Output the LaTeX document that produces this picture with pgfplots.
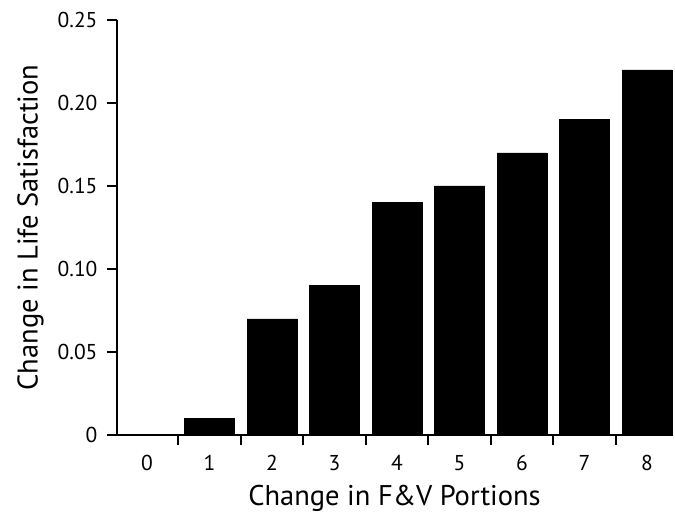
\documentclass[border=0pt]{standalone}
\usepackage{fontspec}
\setmainfont{PT Sans}
\usepackage{pgfplots}
\pgfplotsset{compat=1.18}

\begin{document}
\begin{tikzpicture}
\begin{axis}[
    scale only axis,
    width=555pt, height=415pt,
    xmin=-0.48, xmax=8.4,
    ymin=0, ymax=0.25,
    axis x line=bottom, axis y line=left,
    axis line style={line width=2pt, -},
    tick align=outside,
    xtick={0.5,1.5,2.5,3.5,4.5,5.5,6.5,7.5},
    xticklabels={},
    extra x ticks={0,1,2,3,4,5,6,7,8},
    extra x tick labels={0,1,2,3,4,5,6,7,8},
    extra x tick style={major tick length=0pt, xticklabel style={yshift=-17pt}},
    ytick={0,0.05,0.10,0.15,0.20,0.25},
    yticklabels={0,0.05,0.10,0.15,0.20,0.25},
    yticklabel style={xshift=-6pt},
    tick style={line width=2pt, black},
    major tick length=10pt,
    tick label style={font=\fontsize{21.5}{24}\selectfont},
    label style={font=\fontsize{28.5}{32}\selectfont},
    xlabel={Change in F\&V Portions},
    ylabel={Change in Life Satisfaction},
    xlabel style={at={(rel axis cs:0.5,0)}, anchor=base, yshift=-70.7pt},
    ylabel style={at={([xshift=-86.5pt]rel axis cs:0,0.5)}, anchor=center},
    /pgf/number format/assume math mode=true,
    clip=false,
]
\addplot[ybar, bar width=0.8, fill=black, draw=black] coordinates {
    (0,0) (1,0.01) (2,0.07) (3,0.09) (4,0.14) (5,0.15) (6,0.17) (7,0.19) (8,0.22)
};
\path (rel axis cs:0,0) ++(-117pt,-77pt) (rel axis cs:1,1) ++(3pt,20pt);
\end{axis}
\end{tikzpicture}
\end{document}
